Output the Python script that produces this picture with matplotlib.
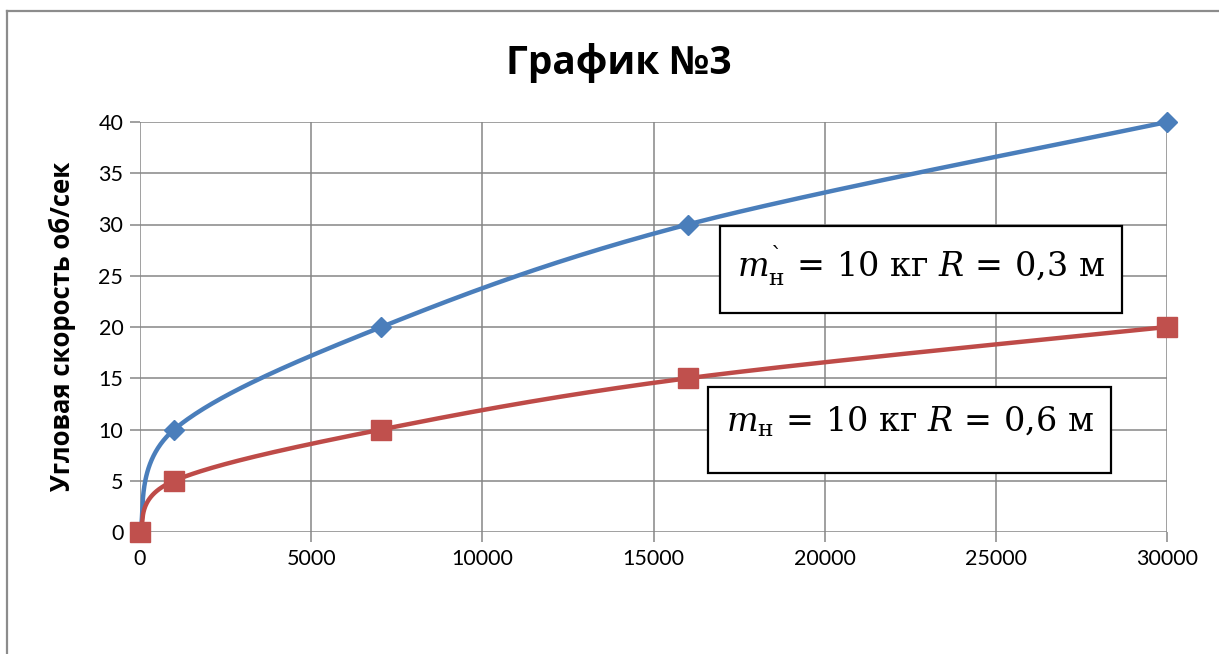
import numpy as np
import matplotlib
matplotlib.use("Agg")
import matplotlib.pyplot as plt
from matplotlib.lines import Line2D
from matplotlib.patches import Rectangle

# data
x_vals = [0, 1000, 7050, 16000, 30000]
omega_03 = [0, 10, 20, 30, 40]
omega_06 = [0, 5, 10, 15, 20]
x_ticks = [0, 5000, 10000, 15000, 20000, 25000, 30000]
y_ticks = [0, 5, 10, 15, 20, 25, 30, 35, 40]

title = "График №3"
ylabel = "Угловая скорость об/сек"
label_03 = r"$m_{\mathrm{н}}^{\mathrm{ˋ}} \,=\, 10\ \mathrm{кг}\ R \,=\, 0{,}3\ \mathrm{м}$"
label_06 = r"$m_{\mathrm{н}} \,=\, 10\ \mathrm{кг}\ R \,=\, 0{,}6\ \mathrm{м}$"


def smooth(xs, ys, n=60):
    """excel-like smoothing: bezier segments with 1/6 tangents"""
    p = np.column_stack([xs, ys]).astype(float)
    m = len(p)
    out = []
    t = np.linspace(0, 1, n)[:, None]
    for i in range(m - 1):
        p0 = p[max(i - 1, 0)]
        p1 = p[i]
        p2 = p[i + 1]
        p3 = p[min(i + 2, m - 1)]
        c1 = p1 + (p2 - p0) / 6
        c2 = p2 - (p3 - p1) / 6
        seg = ((1 - t) ** 3) * p1 + 3 * ((1 - t) ** 2) * t * c1 + 3 * (1 - t) * t ** 2 * c2 + t ** 3 * p2
        out.append(seg)
    s = np.vstack(out)
    return s[:, 0], s[:, 1]


plt.rcParams['mathtext.fontset'] = 'dejavuserif'

fig = plt.figure(figsize=(12.19, 6.54), dpi=100)
ax = fig.add_axes([140 / 1219, 1 - 532 / 654, 1027 / 1219, 410 / 654])

grid_c = '#868686'
ax.set_xlim(0, 30000)
ax.set_ylim(0, 40)
ax.set_xticks(x_ticks)
ax.set_yticks(y_ticks)
ax.grid(True, color=grid_c, lw=1.1)
ax.set_axisbelow(True)
for s in ax.spines.values():
    s.set_visible(False)
ax.tick_params(length=7, width=1.1, color=grid_c, labelsize=15.5, pad=5)
for lab in ax.get_xticklabels() + ax.get_yticklabels():
    lab.set_family(['Lato', 'DejaVu Sans'])

sx, sy = smooth(x_vals, omega_03)
ax.plot(sx, sy, color='#4A7EBB', lw=3.2, clip_on=False, zorder=3)
ax.plot(x_vals, omega_03, ls='none', marker='D', ms=10, color='#4A7EBB', clip_on=False, zorder=4)

sx, sy = smooth(x_vals, omega_06)
ax.plot(sx, sy, color='#BE4B48', lw=3.2, clip_on=False, zorder=3)
ax.plot(x_vals, omega_06, ls='none', marker='s', ms=14, color='#C0504D', clip_on=False, zorder=4)

fig.text(619 / 1219, 1 - 63 / 654, title, ha='center', va='center', fontsize=28,
         fontweight='bold', family='Open Sans')
fig.text(62 / 1219, 1 - 326 / 654, ylabel, ha='center', va='center', rotation=90,
         fontsize=18.5, fontweight='bold', family='Open Sans')

# label boxes
for (x0, y0, x1, y1), txt, tx, ty in [((720, 226, 1122, 313), label_03, 921, 266),
                                      ((708, 387, 1111, 473), label_06, 910, 422)]:
    fig.patches.append(Rectangle((x0 / 1219, 1 - y1 / 654), (x1 - x0) / 1219, (y1 - y0) / 654,
                                 transform=fig.transFigure, facecolor='white', edgecolor='black',
                                 lw=1.6, zorder=5))
    fig.text(tx / 1219, 1 - ty / 654, txt, ha='center', va='center', fontsize=24, zorder=6)

# outer chart frame (top and left edges only visible)
fig.add_artist(Line2D([7 / 1219, 1], [1 - 10.5 / 654, 1 - 10.5 / 654], color='#8c8c8c', lw=1.6))
fig.add_artist(Line2D([7 / 1219, 7 / 1219], [0, 1 - 10.5 / 654], color='#8c8c8c', lw=1.6))

fig.savefig('out.png', dpi=100)
